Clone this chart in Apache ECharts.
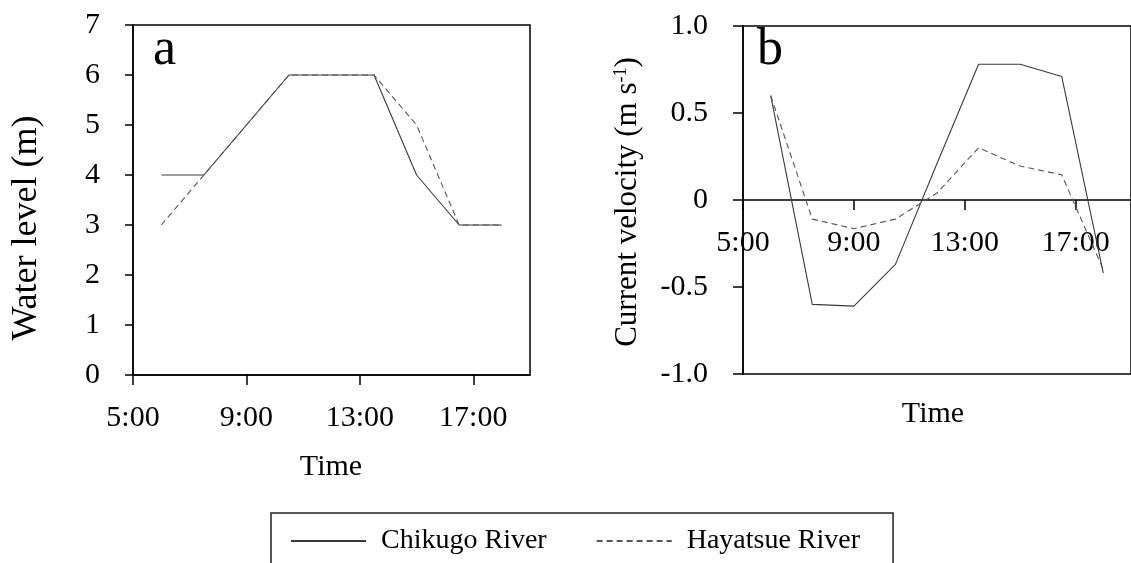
<!DOCTYPE html>
<html>
<head>
<meta charset="utf-8">
<script src="https://cdn.jsdelivr.net/npm/echarts@6/dist/echarts.min.js"></script>
<style>
  html, body { margin: 0; padding: 0; background: #fff; }
  #chart { width: 1131px; height: 563px; }
</style>
</head>
<body>
<div id="chart"></div>
<script>
// sampling times (hours of day)
const hours = [6, 7.5, 9, 10.5, 12, 13.5, 15, 16.5, 18]
const timeTicks = ['5:00', '9:00', '13:00', '17:00']
// panel a: water level (m)
const levelChikugo = [4, 4, 5, 6, 6, 6, 4, 3, 3]
const levelHayatsue = [3, 4, 5, 6, 6, 6, 5, 3, 3]
// panel b: current velocity (m s-1)
const velChikugo = [0.6, -0.6, -0.61, -0.37, 0.21, 0.78, 0.78, 0.71, -0.42]
const velHayatsue = [0.6, -0.11, -0.165, -0.11, 0.04, 0.3, 0.195, 0.145, -0.4]

const FONT = 'Liberation Serif'
const ink = '#000'

// x is hours since 5:00 so the tick interval starts at 0
function pts(vals) {
  return hours.map((h, i) => [h - 5, vals[i]])
}

// panel b has its time axis on the zero line: shift it up by half the grid
function xAxisOf(idx, offset) {
  return {
    gridIndex: idx,
    type: 'value',
    position: 'bottom',
    offset: offset,
    min: 0,
    max: 14,
    interval: 4,
    axisLine: { show: true, onZero: false, lineStyle: { color: ink, width: 1.5 } },
    axisTick: { show: true, length: 10, lineStyle: { color: ink, width: 1.5 } },
    axisLabel: {
      margin: 28,
      showMaxLabel: false,
      color: ink, fontFamily: FONT, fontSize: 30,
      formatter: v => timeTicks[v / 4] || ''
    },
    splitLine: { show: false }
  }
}

const solid = { color: '#3a3a3a', width: 1.1, type: 'solid' }
const dashed = { color: '#555', width: 1.1, type: [6, 4] }

function line(name, idx, vals, style) {
  return {
    name: name,
    type: 'line',
    xAxisIndex: idx,
    yAxisIndex: idx,
    data: pts(vals),
    symbol: 'none',
    lineStyle: style,
    itemStyle: { color: style.color },
    animation: false
  }
}

const chart = echarts.init(document.getElementById('chart'))
chart.setOption({
  backgroundColor: '#fff',
  grid: [
    { left: 133, top: 25, width: 397, height: 350, show: true, borderColor: ink, borderWidth: 1.5 },
    { left: 743, top: 26, width: 397, height: 348, show: true, borderColor: ink, borderWidth: 1.5 }
  ],
  xAxis: [xAxisOf(0, 0), xAxisOf(1, -174)],
  yAxis: [
    {
      gridIndex: 0, type: 'value', min: 0, max: 7, interval: 1,
      axisLine: { show: true, lineStyle: { color: ink, width: 1.5 } },
      axisTick: { show: true, length: 8, lineStyle: { color: ink, width: 1.5 } },
      axisLabel: { margin: 33, color: ink, fontFamily: FONT, fontSize: 30 },
      splitLine: { show: false }
    },
    {
      gridIndex: 1, type: 'value', min: -1, max: 1, interval: 0.5,
      axisLine: { show: true, lineStyle: { color: ink, width: 1.5 } },
      axisTick: { show: true, length: 10, lineStyle: { color: ink, width: 1.5 } },
      axisLabel: {
        margin: 35, color: ink, fontFamily: FONT, fontSize: 30,
        formatter: v => (v === 0 ? '0' : v.toFixed(1))
      },
      splitLine: { show: false }
    }
  ],
  legend: {
    data: ['Chikugo River', 'Hayatsue River'],
    left: 271,
    top: 513,
    padding: [14, 33, 30, 19],
    borderColor: '#222',
    borderWidth: 1.5,
    itemWidth: 75,
    itemHeight: 14,
    itemGap: 49,
    itemStyle: { opacity: 0 },
    textStyle: { color: ink, fontFamily: FONT, fontSize: 28, padding: [0, 0, 0, 10] }
  },
  graphic: [
    { type: 'text', left: 153, top: 24, style: { text: 'a', font: '52px "Liberation Serif"', fill: ink } },
    { type: 'text', left: 757, top: 24, style: { text: 'b', font: '52px "Liberation Serif"', fill: ink } },
    {
      type: 'text', x: 331, y: 467,
      style: { text: 'Time', font: '30px "Liberation Serif"', fill: ink, align: 'center', verticalAlign: 'middle' }
    },
    {
      type: 'text', x: 933, y: 414,
      style: { text: 'Time', font: '30px "Liberation Serif"', fill: ink, align: 'center', verticalAlign: 'middle' }
    },
    {
      type: 'text', x: 27, y: 228, rotation: Math.PI / 2,
      style: { text: 'Water level (m)', font: '36px "Liberation Serif"', fill: ink, align: 'center', verticalAlign: 'middle' }
    },
    {
      type: 'text', x: 628, y: 202, rotation: Math.PI / 2,
      style: {
        text: 'Current velocity (m s{sup|-1})',
        font: '31px "Liberation Serif"', fill: ink, align: 'center', verticalAlign: 'middle',
        rich: { sup: { fontSize: 18, fontFamily: FONT, fill: ink, verticalAlign: 'top', padding: [0, 0, 11, 0] } }
      }
    }
  ],
  series: [
    line('Chikugo River', 0, levelChikugo, solid),
    line('Hayatsue River', 0, levelHayatsue, dashed),
    line('Chikugo River', 1, velChikugo, solid),
    line('Hayatsue River', 1, velHayatsue, dashed)
  ]
})
window.addEventListener('resize', () => {
  chart.resize()
})
</script>
</body>
</html>
